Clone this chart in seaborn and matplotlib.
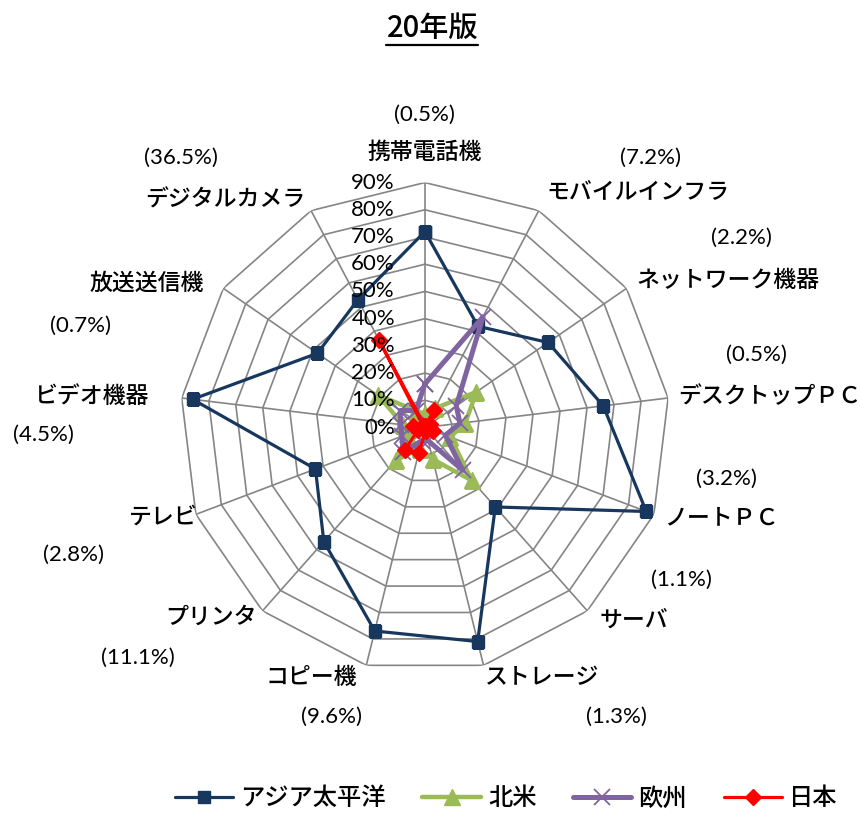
import numpy as np
import pandas as pd
import matplotlib
matplotlib.use('Agg')
import matplotlib.pyplot as plt
import seaborn as sns
from matplotlib.lines import Line2D

categories = ['携帯電話機', 'モバイルインフラ', 'ネットワーク機器', 'デスクトップＰＣ', 'ノートＰＣ',
              'サーバ', 'ストレージ', 'コピー機', 'プリンタ', 'テレビ', 'ビデオ機器', '放送送信機',
              'デジタルカメラ']
share = [0.5, 7.2, 2.2, 0.5, 3.2, 1.1, 1.3, 9.6, 11.1, 2.8, 4.5, 0.7, 36.5]

asia = [72, 42, 55, 66, 87, 39, 81, 77, 56, 43, 86, 48, 53]
north_america = [5, 8, 23, 15, 10, 26, 12, 8, 16, 7, 8, 21, 7]
europe = [16, 46, 14, 13, 8, 21, 5, 5, 12, 9, 9, 11, 7]
japan = share

series_names = ['アジア太平洋', '北米', '欧州', '日本']
radial_ticks = [0, 10, 20, 30, 40, 50, 60, 70, 80, 90]
title = '20年版'

# label offsets from the outer vertex, in pixels (dx, dy up)
name_offsets = [(0, 30), (99, 19), (101, 8), (102, 1), (67, -3), (47, -9), (59, -12),
                (-55, -12), (-51, -6), (-33, -3), (-91, 1), (-77, 5), (-86, 11)]
pct_offsets = [(0, 68), (112, 53), (115, 51), (88, 43), (72, 36), (94, 31), (133, -52),
               (-35, -52), (-125, -47), (-122, -40), (-138, -37), (-143, -37), (-130, 53)]

sns.set_theme(style='white')
plt.rcParams['font.family'] = ['Noto Sans CJK JP', 'DejaVu Sans']
plt.rcParams['text.color'] = 'black'

n = len(categories)
angles = np.arange(n) * 2 * np.pi / n
closed = np.append(angles, 2 * np.pi)

fig = plt.figure(figsize=(8.61, 8.13), dpi=100)
ax = fig.add_axes([0.209, 0.1728, 0.569, 0.6027], projection='polar')
ax.set_theta_zero_location('N')
ax.set_theta_direction(-1)

grid_color = '#858585'
for r in radial_ticks[1:]:
    ax.plot(closed, [r] * (n + 1), color=grid_color, lw=1.2, zorder=1)
for a in angles:
    ax.plot([a, a], [0, 90], color=grid_color, lw=1.2, zorder=1)

styles = [
    (asia, '#17375E', 's', 9, 2.3, 1),
    (north_america, '#9BBB59', '^', 11, 3.2, 1),
    (europe, '#8064A2', 'x', 11, 3.6, 1.3),
    (japan, '#FF0000', 'D', 8, 2.3, 1),
]
handles = []
for name, (vals, color, marker, ms, lw, mew) in zip(series_names, styles):
    df = pd.DataFrame({'theta': closed, 'value': np.append(vals, vals[0])})
    sns.lineplot(data=df, x='theta', y='value', ax=ax, color=color, marker=marker,
                 markersize=ms, linewidth=lw, markeredgewidth=mew, markeredgecolor=color,
                 sort=False, estimator=None, legend=False, zorder=3)
    handles.append(Line2D([], [], color=color, marker=marker, markersize=ms, lw=lw,
                          markeredgewidth=mew, markeredgecolor=color, label=name))

ax.set_ylim(0, 90)
ax.set_xticks([])
ax.set_yticks([])
ax.grid(False)
ax.spines['polar'].set_visible(False)
ax.set_xlabel('')
ax.set_ylabel('')

for r in radial_ticks:
    ax.annotate(f'{r}%', xy=(0, r), xytext=(-30, 0), textcoords='offset pixels',
                ha='right', va='center', fontsize=16, family=['Lato', 'DejaVu Sans'])

for i, a in enumerate(angles):
    ax.annotate(categories[i], xy=(a, 90), xytext=name_offsets[i], textcoords='offset pixels',
                ha='center', va='center', fontsize=16.5, fontweight='medium',
                annotation_clip=False)
    ax.annotate(f'({share[i]}%)', xy=(a, 90), xytext=pct_offsets[i], textcoords='offset pixels',
                ha='center', va='center', fontsize=16, family=['Lato', 'DejaVu Sans'],
                annotation_clip=False)

t = fig.text(0.502, 0.9656, title, ha='center', va='center', fontsize=21, fontweight='medium')
fig.canvas.draw()
bb = t.get_window_extent(fig.canvas.get_renderer())
W, H = fig.bbox.width, fig.bbox.height
uy = (bb.y0 - 2) / H
fig.add_artist(Line2D([bb.x0 / W, bb.x1 / W], [uy, uy], color='black', lw=1.6))

fig.legend(handles=handles, loc='center', bbox_to_anchor=(0.588, 0.018), ncol=4,
           frameon=False, prop={'size': 17.5, 'weight': 'medium'}, handlelength=2.4,
           handletextpad=0.3, columnspacing=1.5)

fig.savefig('out.png', dpi=100)
